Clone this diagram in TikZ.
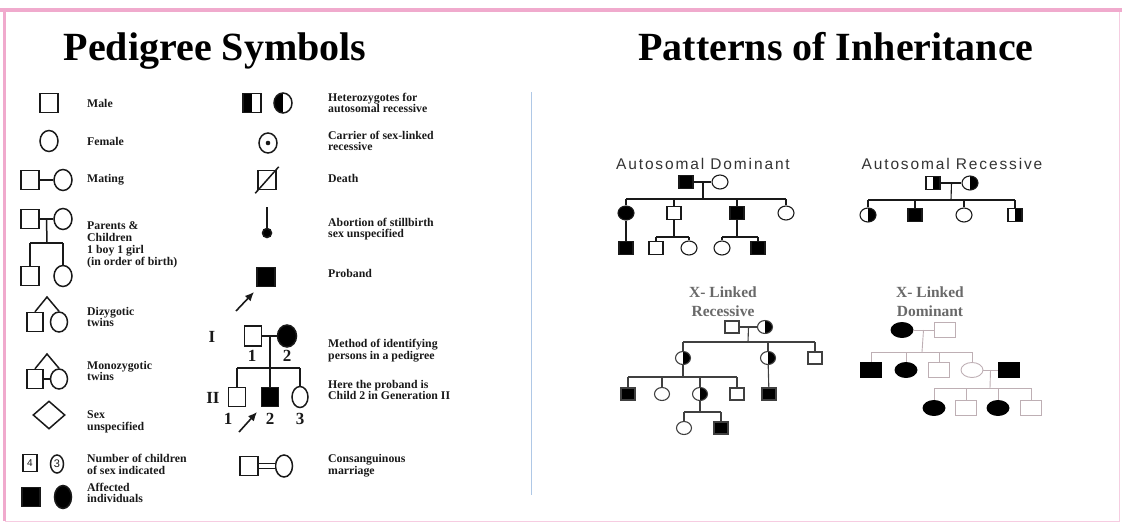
\documentclass[tikz,border=0pt]{standalone}
\usepackage{fontspec}
\setmainfont{Liberation Serif}
\newfontfamily\pedsans[LetterSpace=12]{Liberation Sans}
\newfontfamily\numsans{Liberation Sans}
\usetikzlibrary{shapes.geometric,arrows.meta,positioning,calc}
\definecolor{framepink}{RGB}{240,170,205}
\definecolor{rulecolor}{RGB}{175,200,230}
\definecolor{faintline}{RGB}{190,175,180}
\definecolor{xltext}{RGB}{105,105,105}
\definecolor{inkcolor}{RGB}{25,25,25}

\begin{document}
\begin{tikzpicture}[x=1pt, y=-1pt,
    sq/.style={draw, rectangle, inner sep=0pt},
    ci/.style={draw, ellipse, inner sep=0pt},
    aff/.style={fill=black},
    lhalf/.style={path picture={\fill[black] (path picture bounding box.south west) rectangle (path picture bounding box.north);}},
    rhalf/.style={path picture={\fill[black] (path picture bounding box.south) rectangle (path picture bounding box.north east);}},
    leg/.style={line width=1.5pt, inkcolor},
    legsq/.style={sq, leg, minimum width=18pt, minimum height=19pt},
    legci/.style={ci, leg, minimum width=18pt, minimum height=21pt},
    pedsq/.style={sq, line width=1.1pt, inkcolor, minimum width=14pt, minimum height=13pt},
    pedci/.style={ci, line width=1.1pt, inkcolor, minimum width=16pt, minimum height=14pt},
    xrsq/.style={sq, line width=1.1pt, black!75, minimum width=14pt, minimum height=12pt},
    xrci/.style={ci, line width=1.1pt, black!75, minimum width=15pt, minimum height=13pt},
    xdsq/.style={sq, line width=0.9pt, faintline, minimum width=21pt, minimum height=15pt},
    xdci/.style={ci, line width=0.9pt, faintline, minimum width=22pt, minimum height=15pt},
    link/.style={line width=1.1pt, inkcolor},
    xrlink/.style={line width=1.1pt, black!75},
    xdlink/.style={line width=0.9pt, faintline},
    lab/.style={anchor=west, align=left, inner sep=0pt, inkcolor, font=\fontsize{11.8}{11.8}\selectfont\bfseries},
    gen/.style={inner sep=0pt, inkcolor, font=\fontsize{17}{17}\selectfont\bfseries},
    head/.style={anchor=base, inner sep=0pt, font=\fontsize{40}{40}\selectfont\bfseries},
    pattern/.style={anchor=base, inner sep=0pt, black!80, font=\pedsans\fontsize{15.5}{15.5}\selectfont},
    xltitle/.style={align=center, inner sep=0pt, xltext, font=\fontsize{15.5}{19}\selectfont\bfseries},
    pointer/.style={line width=1.6pt, inkcolor, -{Latex[length=9pt, width=8pt]}}
]
    \useasboundingbox (0,0) rectangle (1122,525);

    % Frame and divider
    \draw[framepink!60, line width=1pt] (5,10) rectangle (1119,521);
    \draw[framepink, line width=4pt] (0,10) -- (1122,10);
    \draw[framepink, line width=3pt] (4.5,10) -- (4.5,521);
    \draw[rulecolor, line width=0.8pt] (531,92) -- (531,495);

    % Titles
    \node[head] (ttlL) at (215,60) {Pedigree Symbols};
    \node[head] (ttlR) at (836,60) {Patterns of Inheritance};

    % ===== Symbols, first column =====
    \node[legsq] (male) at (49,103) {};
    \node[lab] at (87,103) {Male};

    \node[legci] (fem) at (49,141) {};
    \node[lab] at (87,141) {Female};

    \node[legsq] (mt1) at (30,180) {};
    \node[legci] (mt2) at (63,180) {};
    \draw[leg] (mt1) -- (mt2);
    \node[lab] at (87,180) {Mating};

    % Parents and children
    \node[legsq] (pc1) at (30,219) {};
    \node[legci] (pc2) at (63,219) {};
    \node[legsq] (pc3) at (30,276) {};
    \node[legci] (pc4) at (63,276) {};
    \coordinate (pcm) at ($(pc1)!0.5!(pc2)$);
    \coordinate (pcs) at (47,243);
    \draw[leg] (pc1) -- (pc2);
    \draw[leg] (pcm) -- (pcs);
    \draw[leg] (pc3 |- pcs) -- (pc4 |- pcs);
    \draw[leg] (pc3 |- pcs) -- (pc3);
    \draw[leg] (pc4 |- pcs) -- (pc4);
    \node[lab] at (87,245) {Parents \&\\Children\\1 boy 1 girl\\(in order of birth)};

    % Twins
    \coordinate (dz0) at (47,297);
    \node[legsq, minimum width=16pt] (dz1) at (35,322) {};
    \node[legci, minimum width=17pt, minimum height=20pt] (dz2) at (59,322) {};
    \draw[leg] (dz1.north) -- (dz0) -- (dz2.north);
    \node[lab] at (87,317) {Dizygotic\\twins};

    \coordinate (mz0) at (47,354);
    \node[legsq, minimum width=16pt] (mz1) at (35,379) {};
    \node[legci, minimum width=17pt, minimum height=20pt] (mz2) at (59,379) {};
    \draw[leg] (mz1.north) -- (mz0) -- (mz2.north);
    \draw[leg] (mz1) -- (mz2);
    \node[lab] at (87,371) {Monozygotic\\twins};

    \node[draw, diamond, leg, inner sep=0pt, minimum width=32pt, minimum height=28pt] (unk) at (49,415) {};
    \node[lab] at (87,422) {Sex\\unspecified};

    \node[sq, leg, minimum width=14pt, minimum height=17pt, font=\numsans\fontsize{10}{10}\selectfont] (nm1) at (30,463) {4};
    \node[ci, leg, minimum width=13pt, minimum height=18pt, font=\numsans\fontsize{11}{11}\selectfont] (nm2) at (57,464) {3};
    \node[lab] at (87,464) {Number of children\\of sex indicated};

    \node[legsq, aff] (af1) at (31,497) {};
    \node[legci, aff, minimum width=17pt, minimum height=23pt] (af2) at (63,497) {};
    \node[lab] at (87,493) {Affected\\individuals};

    % ===== Symbols, second column =====
    \node[legsq, lhalf] (ht1) at (252,103) {};
    \node[legci, lhalf, minimum height=20pt] (ht2) at (283,103) {};
    \node[lab] at (328,103) {Heterozygotes for\\autosomal recessive};

    \node[legci, minimum height=20pt] (cr) at (268,143) {};
    \fill[inkcolor] (cr.center) circle[radius=2.3pt];
    \node[lab] at (328,141) {Carrier of sex-linked\\recessive};

    \node[legsq] (de) at (267,180) {};
    \draw[leg] ($(de.south west)+(-2,3)$) -- ($(de.north east)+(2,-3)$);
    \node[lab] at (328,178) {Death};

    \coordinate (abt) at (267,207);
    \node[ci, leg, aff, minimum size=9pt] (ab) at (267,233) {};
    \draw[leg] (abt) -- (ab);
    \node[lab] at (328,229) {Abortion of stillbirth\\sex unspecified};

    \node[legsq, aff] (pb) at (266,277) {};
    \coordinate (pb0) at (236,311);
    \coordinate (pb1) at (254,292);
    \draw[pointer] (pb0) -- (pb1);
    \node[lab] at (328,273) {Proband};

    % Numbered pedigree
    \node[gen] at (212,337) {I};
    \node[legsq, minimum width=17pt, minimum height=20pt] (g11) at (253,336) {};
    \node[legci, aff, minimum width=19pt, minimum height=22pt] (g12) at (287,336) {};
    \node[gen] at (252,356) {1};
    \node[gen] at (287,356) {2};
    \coordinate (gm) at ($(g11)!0.5!(g12)$);
    \coordinate (gs) at (270,368);
    \draw[leg] (g11) -- (g12);
    \draw[leg] (gm) -- (gs);

    \node[gen] at (213,398) {II};
    \node[legsq, minimum width=17pt] (g21) at (237,397) {};
    \node[legsq, aff, minimum width=17pt] (g22) at (270,397) {};
    \node[legci, minimum width=16pt] (g23) at (300,397) {};
    \draw[leg] (g21 |- gs) -- (g23 |- gs);
    \foreach \n in {g21,g22,g23}
        \draw[leg] (\n |- gs) -- (\n);
    \node[gen] at (228,419) {1};
    \node[gen] at (270,419) {2};
    \node[gen] at (300,419) {3};
    \coordinate (pr0) at (239,432);
    \coordinate (pr1) at (257,412);
    \draw[pointer] (pr0) -- (pr1);
    \node[lab] at (328,351) {Method of identifying\\persons in a pedigree};
    \node[lab] at (328,390) {Here the proband is\\Child 2 in Generation II};

    \node[legsq] (cs1) at (249,466) {};
    \node[legci, minimum width=17pt, minimum height=22pt] (cs2) at (284,466) {};
    \draw[inkcolor, line width=1.3pt, double=white, double distance=4pt] (cs1) -- (cs2);
    \node[lab] at (328,466) {Consanguinous\\marriage};

    % ===== Autosomal dominant =====
    \node[pattern] (adt) at (703,169) {Autosomal Dominant};
    \node[pedsq, aff] (ad1) at (686,182) {};
    \node[pedci] (ad2) at (720,182) {};
    \coordinate (adm) at ($(ad1)!0.5!(ad2)$);
    \coordinate (ads) at (703,199);
    \draw[link] (ad1) -- (ad2);
    \draw[link] (adm) -- (ads);
    \node[pedci, aff] (ad3) at (626,213) {};
    \node[pedsq] (ad4) at (674,213) {};
    \node[pedsq, aff] (ad5) at (737,213) {};
    \node[pedci] (ad6) at (786,213) {};
    \draw[link] (ad3 |- ads) -- (ad6 |- ads);
    \foreach \n in {ad3,ad4,ad5,ad6}
        \draw[link] (\n |- ads) -- (\n);
    \node[pedsq, aff] (ad7) at (626,248) {};
    \draw[link] (ad3) -- (ad7);
    \node[pedsq] (ad8) at (656,248) {};
    \node[pedci] (ad9) at (689,248) {};
    \coordinate (adu) at (674,237);
    \draw[link] (ad4) -- (adu);
    \draw[link] (ad8 |- adu) -- (ad9 |- adu);
    \draw[link] (ad8 |- adu) -- (ad8);
    \draw[link] (ad9 |- adu) -- (ad9);
    \node[pedci] (ad10) at (722,248) {};
    \node[pedsq, aff] (ad11) at (758,248) {};
    \coordinate (adv) at (737,237);
    \draw[link] (ad5) -- (adv);
    \draw[link] (ad10 |- adv) -- (ad11 |- adv);
    \draw[link] (ad10 |- adv) -- (ad10);
    \draw[link] (ad11 |- adv) -- (ad11);

    % ===== Autosomal recessive =====
    \node[pattern] (art) at (952,169) {Autosomal Recessive};
    \node[pedsq, rhalf] (ar1) at (933,183) {};
    \node[pedci, rhalf] (ar2) at (970,183) {};
    \coordinate (arm) at ($(ar1)!0.5!(ar2)$);
    \coordinate (ars) at (951,200);
    \draw[link] (ar1) -- (ar2);
    \draw[link] (arm) -- (ars);
    \node[pedci, rhalf] (ar3) at (868,215) {};
    \node[pedsq, aff] (ar4) at (915,215) {};
    \node[pedci] (ar5) at (964,215) {};
    \node[pedsq, rhalf] (ar6) at (1015,215) {};
    \draw[link] (ar3 |- ars) -- (ar6 |- ars);
    \foreach \n in {ar3,ar4,ar5,ar6}
        \draw[link] (\n |- ars) -- (\n);

    % ===== X-linked recessive =====
    \node[xltitle] (xrt) at (723,302) {X- Linked\\Recessive};
    \node[xrsq] (xr1) at (732,327) {};
    \node[xrci, rhalf] (xr2) at (765,327) {};
    \coordinate (xrm) at ($(xr1)!0.5!(xr2)$);
    \coordinate (xrs) at (748,342);
    \draw[xrlink] (xr1) -- (xr2);
    \draw[xrlink] (xrm) -- (xrs);
    \node[xrci, rhalf] (xr3) at (683,358) {};
    \node[xrci, rhalf] (xr4) at (768,358) {};
    \node[xrsq] (xr5) at (815,358) {};
    \draw[xrlink] (xr3 |- xrs) -- (xr5 |- xrs);
    \foreach \n in {xr3,xr4,xr5}
        \draw[xrlink] (\n |- xrs) -- (\n);
    \node[xrsq, aff] (xr6) at (628,394) {};
    \node[xrci] (xr7) at (662,394) {};
    \node[xrci, rhalf] (xr8) at (700,394) {};
    \node[xrsq] (xr9) at (737,394) {};
    \coordinate (xru) at (683,377);
    \draw[xrlink] (xr3) -- (xru);
    \draw[xrlink] (xr6 |- xru) -- (xr9 |- xru);
    \foreach \n in {xr6,xr7,xr8,xr9}
        \draw[xrlink] (\n |- xru) -- (\n);
    \node[xrsq, aff] (xr10) at (769,394) {};
    \draw[xrlink] (xr4) -- (xr10);
    \node[xrci] (xr11) at (684,428) {};
    \node[xrsq, aff] (xr12) at (721,428) {};
    \coordinate (xrv) at (700,412);
    \draw[xrlink] (xr8) -- (xrv);
    \draw[xrlink] (xr11 |- xrv) -- (xr12 |- xrv);
    \draw[xrlink] (xr11 |- xrv) -- (xr11);
    \draw[xrlink] (xr12 |- xrv) -- (xr12);

    % ===== X-linked dominant =====
    \node[xltitle] (xdt) at (930,302) {X- Linked\\Dominant};
    \node[xdci, aff, draw=black] (xd1) at (902,330) {};
    \node[xdsq] (xd2) at (945,330) {};
    \coordinate (xdm) at ($(xd1)!0.5!(xd2)$);
    \coordinate (xds) at (922,352);
    \draw[xdlink] (xd1) -- (xd2);
    \draw[xdlink] (xdm) -- (xds);
    \node[xdsq, aff, draw=black] (xd3) at (871,370) {};
    \node[xdci, aff, draw=black] (xd4) at (906,370) {};
    \node[xdsq] (xd5) at (939,370) {};
    \node[xdci] (xd6) at (972,370) {};
    \node[xdsq, aff, draw=black] (xd7) at (1009,370) {};
    \draw[xdlink] (xd3 |- xds) -- (xd6 |- xds);
    \foreach \n in {xd3,xd4,xd5,xd6}
        \draw[xdlink] (\n |- xds) -- (\n);
    \coordinate (xdn) at ($(xd6)!0.5!(xd7)$);
    \coordinate (xdu) at (990,388);
    \draw[xdlink] (xd6) -- (xd7);
    \draw[xdlink] (xdn) -- (xdu);
    \node[xdci, aff, draw=black] (xd8) at (934,408) {};
    \node[xdsq] (xd9) at (966,408) {};
    \node[xdci, aff, draw=black] (xd10) at (998,408) {};
    \node[xdsq] (xd11) at (1031,408) {};
    \draw[xdlink] (xd8 |- xdu) -- (xd11 |- xdu);
    \foreach \n in {xd8,xd9,xd10,xd11}
        \draw[xdlink] (\n |- xdu) -- (\n);
\end{tikzpicture}
\end{document}
